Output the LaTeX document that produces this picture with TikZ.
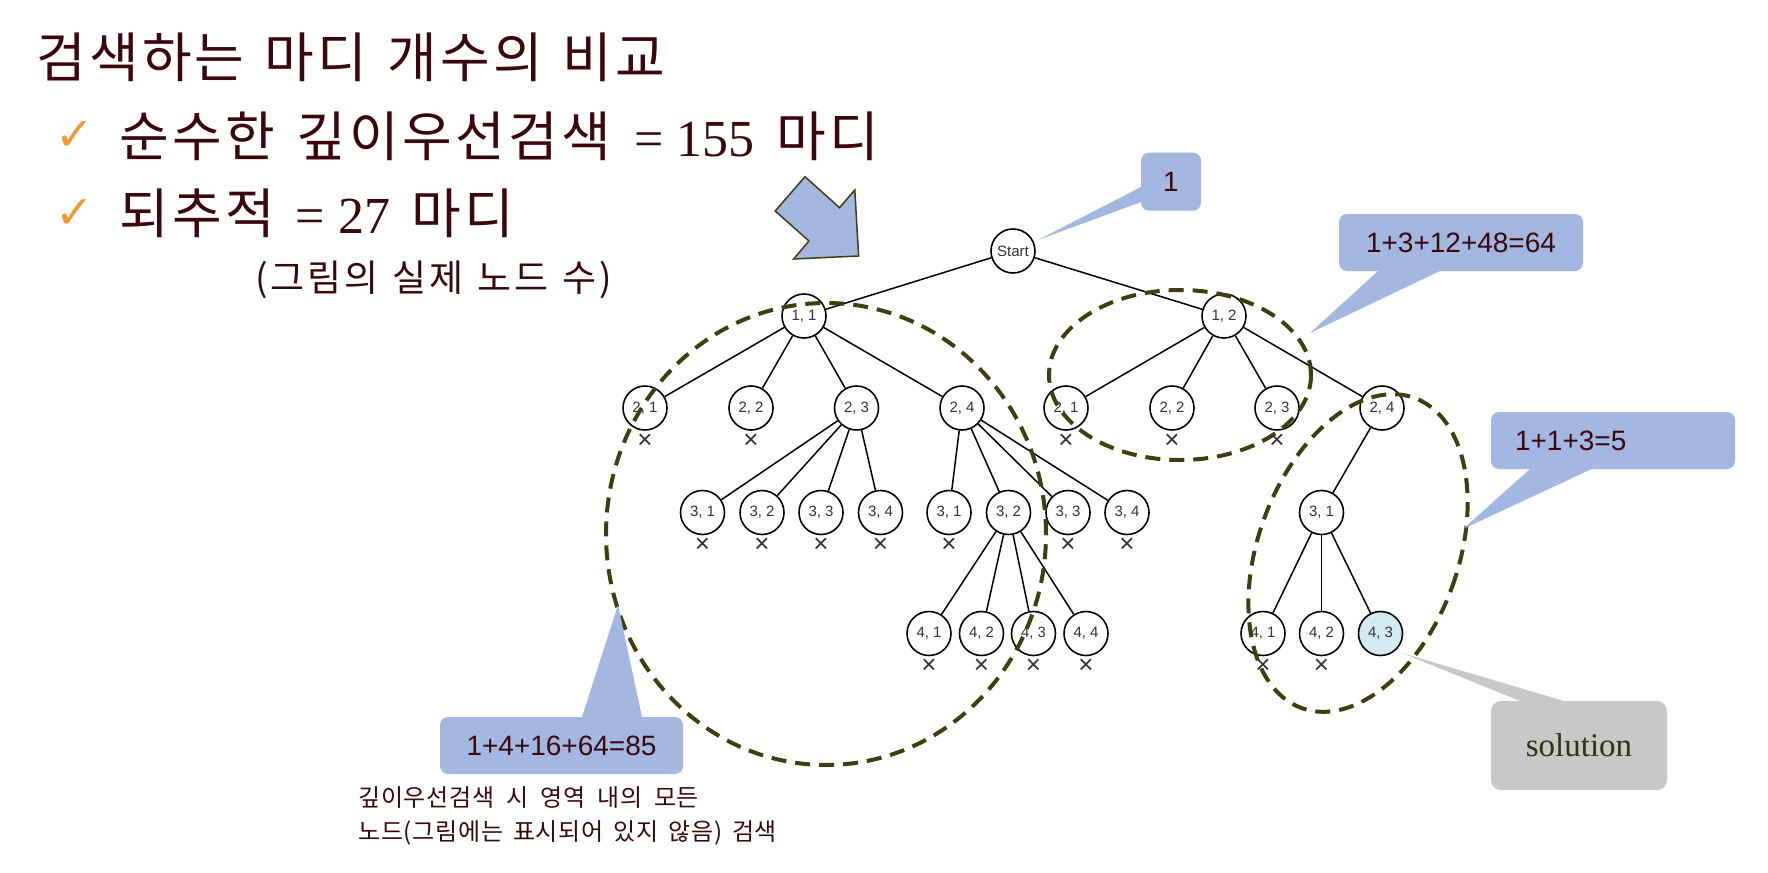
\documentclass[tikz,border=0pt]{standalone}
\usepackage{fontspec}
\setmainfont{Liberation Serif}
\newfontfamily\kr{Noto Sans CJK KR}
\newfontfamily\krw[LetterSpace=6]{Noto Sans CJK KR}
\newfontfamily\krp[LetterSpace=8]{Noto Sans CJK KR}
\newfontfamily\krn[LetterSpace=3]{Noto Sans CJK KR}
\newfontfamily\sansf{Liberation Sans}
\newfontfamily\symf{DejaVu Sans}
\definecolor{txt}{RGB}{58,8,12}
\definecolor{chk}{RGB}{240,152,50}
\definecolor{callblue}{RGB}{164,183,225}
\definecolor{callgray}{RGB}{200,200,200}
\definecolor{olv}{RGB}{62,62,14}
\definecolor{soltxt}{RGB}{50,50,20}
\definecolor{solfill}{RGB}{212,234,242}
\newcommand\widesp[1]{\spaceskip=#1\relax}
\begin{document}
\begin{tikzpicture}[x=1pt,y=-1pt,
  tn/.style={circle, draw=black, line width=1.6pt, minimum size=44pt, inner sep=0pt, fill=white,
    font=\sansf\fontsize{15}{15}\selectfont, text=black!80},
  xm/.style={font=\sansf\fontsize{26}{26}\selectfont, text=black!80, inner sep=0pt},
  edgeln/.style={line width=1.5pt},
  grp/.style={draw=olv, line width=4pt, dash pattern=on 15pt off 9pt},
  callb/.style={fill=callblue, rounded corners=8pt, inner sep=0pt, text=txt,
    font=\sansf\fontsize{28}{28}\selectfont},
  ptr/.style={fill=callblue},
  bigtxt/.style={anchor=base west, inner sep=0pt, text=txt},
  chkm/.style={text=chk, inner sep=0pt, font=\symf\fontsize{46}{46}\selectfont}
]
\fill[white] (0,0) rectangle (1768,872);
\useasboundingbox (0,0) rectangle (1768,872);

% ---- text block ----
\node[bigtxt, font={\krw\fontsize{54}{60}\selectfont\widesp{20pt}}] (title) at (36,78) {검색하는 마디 개수의 비교};
\node[chkm] (ck1) at (74.5,136.5) {✓};
\node[bigtxt, font={\krw\fontsize{54}{60}\selectfont\widesp{22pt}}] (l2a) at (119,156) {순수한 깊이우선검색};
\node[bigtxt, font=\rmfamily\fontsize{52}{60}\selectfont] (l2b) at (634,156) {= 155};
\node[bigtxt, font=\krw\fontsize{54}{60}\selectfont] (l2c) at (776,156) {마디};
\node[chkm] (ck2) at (74.5,214) {✓};
\node[bigtxt, font=\krw\fontsize{54}{60}\selectfont] (l3a) at (119,233) {되추적};
\node[bigtxt, font=\rmfamily\fontsize{52}{60}\selectfont] (l3b) at (295.6,233) {= 27};
\node[bigtxt, font=\krw\fontsize{54}{60}\selectfont] (l3c) at (411,233) {마디};
\node[bigtxt, font={\krp\fontsize{37}{40}\selectfont\widesp{14pt}}] (l4) at (255,291) {(그림의 실제 노드 수)};

% ---- block arrow ----
\draw[fill=callblue, draw=olv, line width=1.5pt, line join=miter]
  (805,176.7) -- (775.2,211) -- (808.9,241) -- (793.6,259) -- (858.6,256) -- (854.8,190) -- (839.5,207.7) -- cycle;

% ---- tree nodes ----
\foreach \n/\x/\y/\t in {
  s/1013/251/{Start}, a/804/316/{1, 1}, b/1224/316/{1, 2},
  a1/645/408/{2, 1}, a2/751/408/{2, 2}, a3/856.5/408/{2, 3}, a4/962/408/{2, 4},
  b1/1066/408/{2, 1}, b2/1172/408/{2, 2}, b3/1277/408/{2, 3}, b4/1382/408/{2, 4},
  c1/702.5/512.5/{3, 1}, c2/762/512.5/{3, 2}, c3/821/512.5/{3, 3}, c4/880.5/512.5/{3, 4},
  d1/949/512.5/{3, 1}, d2/1008.5/512.5/{3, 2}, d3/1068/512.5/{3, 3}, d4/1127/512.5/{3, 4},
  e1/929/633.5/{4, 1}, e2/981.5/633.5/{4, 2}, e3/1033.5/633.5/{4, 3}, e4/1086/633.5/{4, 4},
  f1/1321.5/512.5/{3, 1},
  g1/1263/633.5/{4, 1}, g2/1321.5/633.5/{4, 2}}
  \node[tn] (\n) at (\x,\y) {\t};
\node[tn, fill=solfill] (g3) at (1380.5,633.5) {4, 3};

% edges
\foreach \p/\c in {s/a, s/b, a/a1, a/a2, a/a3, a/a4, b/b1, b/b2, b/b3, b/b4,
  a3/c1, a3/c2, a3/c3, a3/c4, a4/d1, a4/d2, a4/d3, a4/d4,
  d2/e1, d2/e2, d2/e3, d2/e4, b4/f1, f1/g1, f1/g2, f1/g3}
  \draw[edgeln] (\p) -- (\c);

% crosses
\foreach \n in {a1,a2,b1,b2,b3,c1,c2,c3,c4,d1,d3,d4,e1,e2,e3,e4,g1,g2}
  \node[xm] (x\n) at ([yshift=-33pt]\n.center) {×};

% ---- dashed groups ----
\coordinate (gA) at (826,534);
\coordinate (gB) at (1180,375);
\coordinate (gC) at (1358,553);
\draw[grp] (gA) ellipse [x radius=220pt, y radius=231pt];
\draw[grp] (gB) ellipse [x radius=131pt, y radius=85pt];
\draw[grp, rotate around={-20:(gC)}] (gC) ellipse [x radius=100pt, y radius=165pt];

% ---- callouts ----
\fill[ptr] (1038,240) -- (1141,187) -- (1150,187) -- (1150,202) -- (1141,202) -- cycle;
\node[callb, minimum width=60pt, minimum height=58pt] (k1) at (1171,181.7) {1};

\fill[ptr] (1310,333) -- (1378,271) -- (1378,262) -- (1440,262) -- (1440,271) -- cycle;
\node[callb, minimum width=244pt, minimum height=57pt] (k64) at (1461,242.5) {1+3+12+48=64};

\fill[ptr] (1463,529) -- (1530,469) -- (1530,460) -- (1591.5,460) -- (1591.5,469) -- cycle;
\node[callb, minimum width=244pt, minimum height=57pt, text width=196pt, align=left, inner xsep=24pt] (k5) at (1613,440.5) {1+1+3=5};

\fill[ptr] (618,605) -- (582,717) -- (582,725) -- (642,725) -- (642,717) -- cycle;
\node[callb, minimum width=243pt, minimum height=57pt] (k85) at (561.5,745.5) {1+4+16+64=85};

\fill[callgray] (1402,653) -- (1520,701) -- (1520,710) -- (1564,710) -- (1564,701) -- cycle;
\node[fill=callgray, rounded corners=10pt, minimum width=176pt, minimum height=89pt, inner sep=0pt,
  text=soltxt, font=\rmfamily\fontsize{33}{33}\selectfont] (ksol) at (1579,745.5) {solution};

% ---- note text ----
\node[anchor=west, inner sep=0pt, text=txt, font={\krn\fontsize{24}{28}\selectfont\widesp{12pt}}] (n1) at (358,798) {깊이우선검색 시 영역 내의 모든};
\node[anchor=west, inner sep=0pt, text=txt, font={\krn\fontsize{24}{28}\selectfont\widesp{10pt}}] (n2) at (358,833) {노드(그림에는 표시되어 있지 않음) 검색};
\end{tikzpicture}
\end{document}
